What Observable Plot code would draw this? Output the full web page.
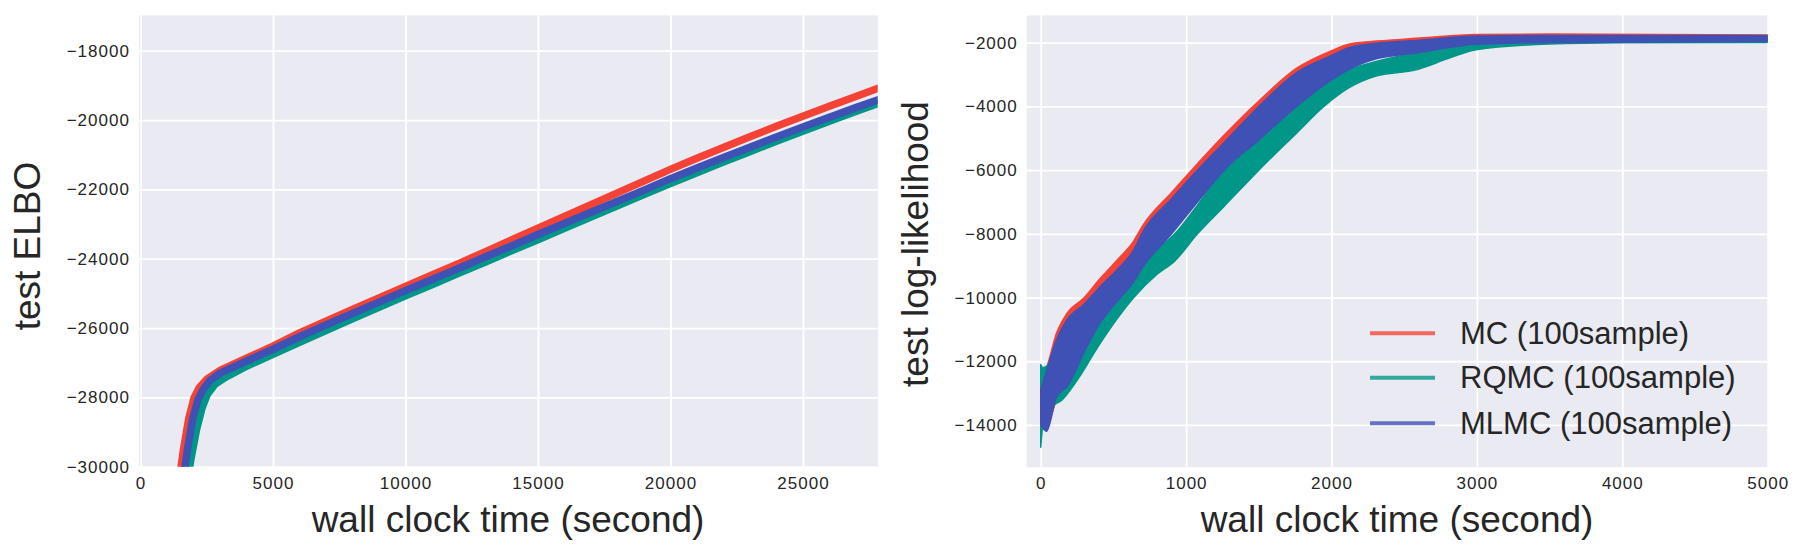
<!DOCTYPE html>
<html>
<head>
<meta charset="utf-8">
<script src="https://cdn.jsdelivr.net/npm/d3@7"></script>
<script src="https://cdn.jsdelivr.net/npm/@observablehq/plot@0.6"></script>
<style>
  html, body { margin: 0; padding: 0; background: #ffffff; }
  #wrap { position: relative; width: 1803px; height: 555px; background: #ffffff; overflow: hidden; }
  #wrap svg { position: absolute; top: 0; }
  [aria-label$="tick label"] text { letter-spacing: 1px; }
</style>
</head>
<body>
<div id="wrap"></div>
<script>
// ---------------- data ----------------
const seriesNames = ["MC (100sample)", "RQMC (100sample)", "MLMC (100sample)"];
const seriesColors = ["#F44336", "#009688", "#3F51B5"];

// left panel: test ELBO vs wall clock time  [time, elbo]
const elboMC = [[1400,-30600],[1600,-29500],[1800,-28600],[2000,-28000],[2200,-27700],[2500,-27450],[3000,-27200],[4000,-26850],[5000,-26500],[6000,-26120],[7000,-25780],[8000,-25440],[9000,-25110],[10000,-24780],[11000,-24450],[12000,-24120],[13000,-23780],[14000,-23440],[15000,-23100],[16000,-22760],[17000,-22420],[18000,-22080],[19000,-21740],[20000,-21400],[21000,-21080],[22000,-20770],[23000,-20460],[24000,-20160],[25000,-19870],[26000,-19580],[27000,-19300],[27820,-19070]];
const elboRQMC = [[1700,-30600],[1900,-29700],[2100,-28900],[2300,-28300],[2500,-27900],[2800,-27600],[3200,-27400],[4000,-27080],[5000,-26740],[6000,-26390],[7000,-26050],[8000,-25710],[9000,-25380],[10000,-25050],[11000,-24730],[12000,-24400],[13000,-24080],[14000,-23750],[15000,-23430],[16000,-23100],[17000,-22780],[18000,-22450],[19000,-22130],[20000,-21810],[21000,-21500],[22000,-21190],[23000,-20890],[24000,-20590],[25000,-20300],[26000,-20010],[27000,-19730],[27820,-19510]];
const elboMLMC = [[1550,-30600],[1750,-29500],[1950,-28600],[2150,-28050],[2350,-27750],[2600,-27500],[3000,-27280],[4000,-26930],[5000,-26590],[6000,-26230],[7000,-25890],[8000,-25560],[9000,-25230],[10000,-24900],[11000,-24580],[12000,-24260],[13000,-23930],[14000,-23610],[15000,-23280],[16000,-22960],[17000,-22640],[18000,-22320],[19000,-22000],[20000,-21670],[21000,-21360],[22000,-21060],[23000,-20760],[24000,-20470],[25000,-20180],[26000,-19900],[27000,-19620],[27820,-19400]];

// right panel: test log-likelihood band (noisy curve)  [time, low, high]
const llMC = [[0,-13800,-12600],[40,-14000,-12200],[110,-13200,-11100],[180,-12700,-10500],[300,-11600,-10000],[400,-10700,-9450],[520,-10000,-8850],[640,-9400,-8220],[700,-9000,-7750],[900,-7900,-6700],[1078,-6950,-5800],[1262,-5950,-4900],[1500,-5000,-3830],[1760,-3950,-2800],[2000,-3100,-2250],[2124,-2800,-2040],[2313,-2450,-1950],[2582,-2250,-1860],[3000,-2030,-1740],[3500,-1970,-1730],[5000,-1950,-1760]];
const llRQMC = [[0,-14700,-12100],[15,-14000,-12200],[60,-13500,-12100],[150,-13200,-11700],[250,-12600,-11000],[400,-11500,-10300],[520,-10700,-9700],[640,-10000,-9100],[800,-9270,-8480],[922,-8850,-8000],[1078,-8000,-7100],[1262,-7130,-6000],[1500,-6000,-5050],[1761,-4830,-4000],[1947,-4000,-3280],[2124,-3400,-2850],[2300,-3050,-2600],[2582,-2850,-2320],[2800,-2500,-2150],[2994,-2220,-1990],[3500,-2040,-1880],[4000,-2000,-1850],[5000,-1990,-1830]];
const llMLMC = [[0,-14000,-12900],[40,-14200,-12300],[110,-13100,-11300],[180,-12800,-10700],[300,-11700,-10200],[400,-10850,-9700],[520,-10150,-9150],[640,-9500,-8500],[700,-9050,-7950],[900,-8000,-6900],[1078,-7000,-6000],[1262,-6000,-5130],[1500,-5050,-4000],[1760,-4000,-2940],[2000,-3170,-2400],[2124,-2830,-2150],[2313,-2500,-2020],[2582,-2320,-1930],[3000,-2050,-1790],[3500,-1990,-1770],[5000,-1960,-1770]];

// tick values
const xTicksLeft = [0, 5000, 10000, 15000, 20000, 25000];
const yTicksLeft = [-30000, -28000, -26000, -24000, -22000, -20000, -18000];
const xTicksRight = [0, 1000, 2000, 3000, 4000, 5000];
const yTicksRight = [-14000, -12000, -10000, -8000, -6000, -4000, -2000];

// labels
const xLabel = "wall clock time (second)";
const yLabelLeft = "test ELBO";
const yLabelRight = "test log-likelihood";

// ---------------- drawing ----------------
const FONT = "'Liberation Sans', Arial, Helvetica, sans-serif";
const TEXT = "#262626";
const BG = "#EAEAF2";
const fmt = d => d < 0 ? "\u2212" + Math.abs(d) : String(d);

function common(xt, yt) {
  return [
    Plot.frame({fill: BG, stroke: "none"}),
    Plot.gridX(xt, {stroke: "white", strokeOpacity: 1, strokeWidth: 1.8}),
    Plot.gridY(yt, {stroke: "white", strokeOpacity: 1, strokeWidth: 1.8}),
    Plot.axisX(xt, {tickSize: 0, tickPadding: 10, tickFormat: fmt, label: null, fontSize: 17, fill: TEXT}),
    Plot.axisY(yt, {tickSize: 0, tickPadding: 9, tickFormat: fmt, label: null, fontSize: 17, fill: TEXT})
  ];
}

const wrap = document.getElementById("wrap");

// left chart
const elboSeries = [elboMC, elboRQMC, elboMLMC];
const left = Plot.plot({
  width: 900, height: 555,
  marginLeft: 138.4, marginRight: 22.3, marginTop: 15, marginBottom: 88.3,
  style: {fontFamily: FONT, background: "transparent", color: TEXT},
  x: {domain: [-80, 27820]},
  y: {domain: [-30000, -16970]},
  marks: [
    ...common(xTicksLeft, yTicksLeft),
    ...elboSeries.map((s, i) => Plot.line(s, {x: d => d[0], y: d => d[1], stroke: seriesColors[i], strokeWidth: 7.5, clip: true}))
  ]
});
left.style.left = "0px";
wrap.appendChild(left);

// right chart (svg starts at x = 860)
const OFF = 860;
const llSeries = [llMC, llRQMC, llMLMC];
const right = Plot.plot({
  width: 1803 - OFF, height: 555,
  marginLeft: 1026.2 - OFF, marginRight: 35.3, marginTop: 15, marginBottom: 88.3,
  style: {fontFamily: FONT, background: "transparent", color: TEXT},
  x: {domain: [-100, 5000]},
  y: {domain: [-15310, -1130]},
  marks: [
    ...common(xTicksRight, yTicksRight),
    ...llSeries.map((s, i) => Plot.areaY(s, {
      x: d => d[0], y1: d => d[1], y2: d => d[2],
      fill: seriesColors[i], stroke: seriesColors[i], strokeWidth: 1.5,
      curve: "monotone-x", clip: true
    }))
  ]
});
right.style.left = OFF + "px";
wrap.appendChild(right);

// axis titles
function addText(svg, str, x, y, size, rotate) {
  d3.select(svg).append("text")
    .attr("transform", `translate(${x},${y})` + (rotate ? " rotate(-90)" : ""))
    .attr("text-anchor", "middle")
    .attr("font-family", FONT)
    .attr("font-size", size)
    .attr("fill", TEXT)
    .text(str);
}
addText(left, yLabelLeft, 40, 246, 37, true);
addText(left, xLabel, 508, 532, 37, false);
addText(right, yLabelRight, 928 - OFF, 244, 37, true);
addText(right, xLabel, 1397 - OFF, 532, 37, false);

// legend (inside right panel, lower right)
const lg = d3.select(right).append("g")
  .attr("font-family", FONT).attr("font-size", 31).attr("fill", TEXT).attr("text-anchor", "start");
const legendRows = [333.3, 377.7, 423.3];
seriesNames.forEach((name, i) => {
  lg.append("line").attr("x1", 1370 - OFF).attr("x2", 1435 - OFF).attr("y1", legendRows[i]).attr("y2", legendRows[i])
    .attr("stroke", seriesColors[i]).attr("stroke-opacity", 0.78).attr("stroke-width", 4);
  lg.append("text").attr("x", 1460 - OFF).attr("y", legendRows[i] + 10.5).attr("text-anchor", "start").text(name);
});
</script>
</body>
</html>
